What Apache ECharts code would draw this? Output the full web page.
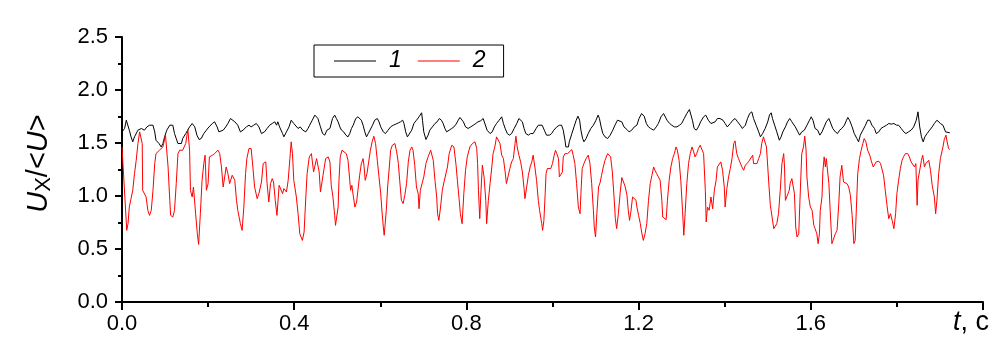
<!DOCTYPE html>
<html><head><meta charset="utf-8">
<script src="https://cdn.jsdelivr.net/npm/echarts@6/dist/echarts.min.js"></script>
<style>html,body{margin:0;padding:0;background:#fff}#c{width:1004px;height:357px}</style>
</head><body><div id="c"></div>
<script>
const seriesNames = ['1', '2'];
const seriesColors = ['#000000', '#ff0000'];
// curve 1: [t (s), Ux/<U>]
const curve1 = [[0.000,1.605],[0.006,1.637],[0.010,1.715],[0.014,1.700],[0.017,1.621],[0.021,1.558],[0.025,1.511],[0.029,1.558],[0.037,1.621],[0.045,1.637],[0.052,1.621],[0.058,1.652],[0.064,1.668],[0.068,1.684],[0.072,1.668],[0.076,1.605],[0.079,1.526],[0.086,1.495],[0.091,1.463],[0.095,1.495],[0.099,1.558],[0.104,1.621],[0.111,1.668],[0.114,1.684],[0.118,1.668],[0.122,1.589],[0.126,1.542],[0.130,1.495],[0.134,1.479],[0.138,1.495],[0.141,1.542],[0.148,1.589],[0.157,1.652],[0.163,1.684],[0.169,1.652],[0.174,1.574],[0.179,1.533],[0.184,1.542],[0.190,1.589],[0.196,1.621],[0.202,1.652],[0.210,1.684],[0.215,1.700],[0.221,1.652],[0.225,1.605],[0.229,1.605],[0.235,1.621],[0.241,1.652],[0.246,1.684],[0.252,1.731],[0.256,1.747],[0.262,1.700],[0.269,1.668],[0.275,1.605],[0.281,1.621],[0.289,1.652],[0.295,1.668],[0.300,1.652],[0.306,1.668],[0.312,1.684],[0.318,1.652],[0.324,1.589],[0.328,1.574],[0.331,1.605],[0.337,1.637],[0.343,1.668],[0.349,1.684],[0.355,1.700],[0.359,1.668],[0.362,1.700],[0.366,1.652],[0.373,1.589],[0.376,1.558],[0.382,1.605],[0.388,1.652],[0.393,1.715],[0.399,1.684],[0.403,1.668],[0.409,1.637],[0.414,1.652],[0.420,1.621],[0.427,1.605],[0.432,1.637],[0.436,1.668],[0.442,1.715],[0.448,1.763],[0.452,1.778],[0.455,1.731],[0.461,1.652],[0.466,1.589],[0.471,1.574],[0.476,1.621],[0.483,1.637],
[0.489,1.731],[0.494,1.763],[0.498,1.731],[0.502,1.700],[0.506,1.652],[0.510,1.621],[0.515,1.605],[0.520,1.574],[0.525,1.558],[0.529,1.589],[0.533,1.637],[0.537,1.668],[0.543,1.731],[0.548,1.747],[0.552,1.753],[0.556,1.715],[0.560,1.668],[0.564,1.605],[0.568,1.558],[0.572,1.589],[0.576,1.621],[0.582,1.668],[0.587,1.715],[0.593,1.731],[0.597,1.700],[0.601,1.652],[0.607,1.605],[0.612,1.589],[0.618,1.621],[0.624,1.652],[0.630,1.668],[0.636,1.678],[0.642,1.690],[0.647,1.700],[0.652,1.715],[0.655,1.684],[0.659,1.605],[0.663,1.558],[0.667,1.574],[0.673,1.621],[0.678,1.684],[0.684,1.715],[0.690,1.747],[0.696,1.785],[0.698,1.715],[0.701,1.605],[0.706,1.533],[0.711,1.574],[0.715,1.621],[0.721,1.652],[0.727,1.684],[0.732,1.700],[0.737,1.731],[0.742,1.715],[0.746,1.684],[0.750,1.637],[0.754,1.605],[0.760,1.621],[0.766,1.637],[0.771,1.652],[0.776,1.678],[0.781,1.715],[0.785,1.741],[0.789,1.747],[0.793,1.700],[0.798,1.652],[0.804,1.637],[0.810,1.652],[0.816,1.668],[0.822,1.684],[0.827,1.700],[0.833,1.709],[0.839,1.731],[0.843,1.715],[0.848,1.621],[0.855,1.589],[0.860,1.605],[0.865,1.652],[0.870,1.684],[0.876,1.715],[0.882,1.747],[0.886,1.684],[0.890,1.637],[0.895,1.589],[0.900,1.574],[0.905,1.589],[0.911,1.637],[0.917,1.684],[0.922,1.731],[0.926,1.747],[0.930,1.700],[0.934,1.637],[0.938,1.589],[0.944,1.574],[0.949,1.589],[0.955,1.589],[0.962,1.637],[0.967,1.668],[0.971,1.668],
[0.976,1.668],[0.981,1.621],[0.986,1.574],[0.993,1.574],[0.998,1.589],[1.003,1.621],[1.010,1.652],[1.016,1.668],[1.021,1.668],[1.025,1.621],[1.029,1.526],[1.031,1.463],[1.037,1.463],[1.039,1.511],[1.045,1.589],[1.050,1.652],[1.055,1.715],[1.059,1.753],[1.063,1.715],[1.066,1.621],[1.070,1.542],[1.073,1.511],[1.078,1.542],[1.083,1.589],[1.089,1.637],[1.095,1.668],[1.101,1.715],[1.106,1.763],[1.109,1.731],[1.113,1.652],[1.117,1.589],[1.122,1.558],[1.128,1.542],[1.134,1.574],[1.140,1.621],[1.145,1.668],[1.151,1.715],[1.155,1.731],[1.161,1.700],[1.166,1.652],[1.173,1.627],[1.178,1.605],[1.184,1.621],[1.190,1.652],[1.196,1.668],[1.201,1.731],[1.207,1.778],[1.213,1.753],[1.218,1.684],[1.223,1.652],[1.228,1.637],[1.235,1.621],[1.241,1.652],[1.246,1.684],[1.252,1.747],[1.258,1.778],[1.262,1.763],[1.266,1.715],[1.272,1.684],[1.277,1.668],[1.283,1.652],[1.289,1.652],[1.295,1.668],[1.300,1.684],[1.306,1.731],[1.312,1.778],[1.318,1.816],[1.321,1.810],[1.325,1.715],[1.329,1.637],[1.334,1.621],[1.339,1.652],[1.344,1.700],[1.351,1.747],[1.356,1.763],[1.362,1.715],[1.368,1.684],[1.372,1.668],[1.378,1.700],[1.383,1.731],[1.389,1.731],[1.396,1.715],[1.401,1.684],[1.406,1.652],[1.413,1.684],[1.419,1.715],[1.424,1.731],[1.430,1.700],[1.436,1.668],[1.441,1.637],[1.448,1.668],[1.453,1.731],[1.458,1.778],
[1.463,1.794],[1.467,1.731],[1.473,1.668],[1.479,1.605],[1.483,1.558],[1.488,1.589],[1.494,1.637],[1.500,1.700],[1.504,1.763],[1.508,1.785],[1.511,1.731],[1.516,1.668],[1.521,1.605],[1.527,1.526],[1.531,1.558],[1.535,1.605],[1.541,1.652],[1.546,1.700],[1.551,1.731],[1.556,1.700],[1.560,1.700],[1.564,1.652],[1.570,1.605],[1.574,1.574],[1.579,1.605],[1.585,1.621],[1.591,1.668],[1.597,1.715],[1.601,1.747],[1.605,1.715],[1.610,1.637],[1.616,1.621],[1.621,1.574],[1.626,1.605],[1.631,1.652],[1.636,1.700],[1.642,1.731],[1.645,1.715],[1.651,1.637],[1.657,1.605],[1.662,1.589],[1.667,1.621],[1.672,1.637],[1.678,1.668],[1.683,1.715],[1.686,1.741],[1.690,1.715],[1.696,1.652],[1.701,1.589],[1.707,1.542],[1.711,1.511],[1.715,1.574],[1.721,1.621],[1.727,1.668],[1.732,1.715],[1.737,1.715],[1.742,1.668],[1.748,1.637],[1.752,1.589],[1.758,1.605],[1.763,1.637],[1.769,1.652],[1.776,1.668],[1.781,1.684],[1.787,1.678],[1.793,1.684],[1.799,1.668],[1.804,1.668],[1.810,1.637],[1.816,1.605],[1.821,1.589],[1.827,1.605],[1.833,1.621],[1.839,1.652],[1.845,1.715],[1.849,1.794],[1.851,1.778],[1.853,1.652],[1.857,1.558],[1.861,1.511],[1.865,1.558],[1.870,1.589],[1.876,1.621],[1.882,1.652],[1.887,1.684],[1.893,1.715],[1.897,1.731],[1.901,1.684],[1.907,1.668],[1.913,1.605],[1.916,1.605],[1.923,1.596]];
// curve 2: [t (s), Ux/<U>]
const curve2 = [[0.000,1.463],[0.011,0.676],[0.014,0.739],[0.017,0.896],[0.021,0.975],[0.025,1.054],[0.029,1.211],[0.033,1.337],[0.037,1.495],[0.041,1.605],[0.045,1.589],[0.047,1.495],[0.048,1.054],[0.052,1.070],[0.056,0.991],[0.060,0.865],[0.064,0.817],[0.068,0.865],[0.072,1.054],[0.076,1.306],[0.079,1.400],[0.087,1.432],[0.095,1.463],[0.101,1.574],[0.104,1.558],[0.107,1.274],[0.111,0.959],[0.113,0.817],[0.118,0.802],[0.122,0.865],[0.126,1.117],[0.130,1.400],[0.134,1.432],[0.141,1.432],[0.148,1.495],[0.153,1.627],[0.157,1.432],[0.159,1.054],[0.163,0.991],[0.166,1.085],[0.171,0.833],[0.175,0.644],[0.178,0.543],[0.182,0.833],[0.186,1.148],[0.190,1.306],[0.193,1.385],[0.196,1.054],[0.200,1.117],[0.203,1.369],[0.210,1.385],[0.215,1.400],[0.223,1.432],[0.227,1.400],[0.231,1.274],[0.235,1.085],[0.238,1.070],[0.242,1.274],[0.246,1.211],[0.250,1.117],[0.256,1.196],[0.262,1.148],[0.266,0.959],[0.269,0.865],[0.275,0.739],[0.279,0.676],[0.283,0.896],[0.287,1.211],[0.290,1.353],[0.295,1.448],[0.300,1.448],[0.304,1.274],[0.308,1.085],[0.314,0.975],[0.318,1.022],[0.324,1.132],[0.328,1.306],[0.334,1.322],[0.337,1.117],[0.341,0.943],[0.345,1.117],[0.349,1.164],[0.352,1.132],[0.356,0.959],[0.360,0.817],[0.365,1.101],[0.369,1.085],[0.373,1.022],[0.376,1.070],[0.382,1.038],[0.386,1.148],[0.390,1.353],[0.393,1.511],[0.396,1.400],[0.399,1.148],[0.405,0.991],[0.409,0.833],[0.413,0.644],[0.419,0.581],[0.423,0.660],[0.427,0.991],[0.430,1.211],[0.435,1.369],[0.440,1.400],[0.445,1.227],[0.452,1.353],[0.458,1.227],[0.461,1.038],[0.467,1.196],[0.473,1.353],[0.479,1.369],[0.483,1.322],
[0.486,1.101],[0.490,0.991],[0.494,0.817],[0.496,0.723],[0.500,0.723],[0.502,0.896],[0.504,1.148],[0.507,1.369],[0.511,1.432],[0.515,1.416],[0.521,1.400],[0.525,1.337],[0.529,1.148],[0.531,1.054],[0.534,1.101],[0.537,1.007],[0.541,0.896],[0.545,0.943],[0.548,1.054],[0.552,1.196],[0.556,1.306],[0.560,1.353],[0.562,1.290],[0.565,1.148],[0.569,1.211],[0.573,1.322],[0.577,1.432],[0.581,1.511],[0.585,1.564],[0.589,1.495],[0.593,1.337],[0.597,1.180],[0.601,1.022],[0.604,0.849],[0.607,0.707],[0.609,0.629],[0.611,0.723],[0.614,0.865],[0.617,1.085],[0.621,1.274],[0.624,1.432],[0.628,1.479],[0.634,1.495],[0.638,1.416],[0.642,1.306],[0.645,1.148],[0.649,0.959],[0.653,0.928],[0.657,1.007],[0.661,1.117],[0.665,1.322],[0.669,1.432],[0.673,1.463],[0.676,1.432],[0.680,1.290],[0.684,1.085],[0.688,1.022],[0.690,0.880],[0.693,1.054],[0.697,1.070],[0.701,1.180],[0.706,1.306],[0.711,1.369],[0.717,1.432],[0.720,1.432],[0.723,1.337],[0.727,1.148],[0.731,0.991],[0.733,0.833],[0.736,0.770],[0.740,0.896],[0.744,1.054],[0.748,1.132],[0.752,1.148],[0.756,1.274],[0.760,1.400],[0.766,1.479],[0.771,1.463],[0.776,1.290],[0.779,1.148],[0.783,0.975],[0.786,0.833],[0.790,0.739],[0.794,1.022],[0.798,1.243],[0.802,1.369],[0.808,1.463],[0.814,1.495],[0.820,1.511],[0.824,1.448],[0.826,1.306],[0.828,1.054],[0.831,0.786],[0.834,1.054],[0.837,1.290],[0.841,1.180],[0.845,0.959],[0.847,0.739],[0.851,0.959],[0.855,1.117],[0.859,1.274],[0.862,1.400],[0.866,1.463],[0.870,1.558],[0.874,1.574],[0.878,1.495],[0.882,1.385],[0.886,1.353],[0.890,1.227],[0.893,1.117],[0.897,1.132],[0.901,1.259],[0.905,1.322],[0.909,1.353],[0.913,1.495],[0.915,1.564],[0.918,1.463],[0.922,1.385],[0.926,1.322],[0.930,1.227],[0.934,1.070],[0.936,0.975],[0.940,1.085],[0.944,1.196],[0.948,1.274],[0.952,1.322],[0.955,1.385],[0.959,1.274],[0.963,1.148],[0.967,0.959],[0.970,0.865],
[0.975,0.739],[0.977,0.676],[0.980,0.770],[0.983,1.022],[0.985,1.211],[0.988,1.259],[0.992,1.274],[0.996,1.259],[1.000,1.306],[1.003,1.369],[1.007,1.432],[1.010,1.400],[1.014,1.353],[1.016,1.180],[1.019,1.164],[1.023,1.227],[1.025,1.369],[1.029,1.400],[1.035,1.400],[1.039,1.416],[1.045,1.438],[1.048,1.385],[1.052,1.306],[1.056,1.117],[1.060,0.896],[1.064,0.833],[1.066,1.022],[1.069,1.259],[1.073,1.306],[1.078,1.353],[1.083,1.385],[1.087,1.306],[1.091,1.117],[1.095,0.865],[1.097,0.707],[1.100,0.613],[1.103,0.833],[1.107,1.085],[1.111,1.132],[1.114,1.196],[1.118,1.274],[1.122,1.337],[1.128,1.400],[1.131,1.416],[1.135,1.369],[1.139,1.227],[1.143,0.991],[1.146,0.786],[1.149,0.692],[1.153,0.833],[1.157,1.022],[1.161,1.174],[1.165,1.132],[1.169,1.085],[1.173,1.007],[1.176,0.865],[1.179,0.770],[1.182,0.849],[1.186,0.991],[1.190,0.975],[1.194,0.959],[1.196,0.896],[1.200,0.817],[1.204,0.739],[1.207,0.660],[1.211,0.581],[1.215,0.644],[1.219,0.739],[1.223,0.959],[1.227,1.117],[1.231,1.196],[1.235,1.274],[1.238,1.243],[1.242,1.211],[1.246,1.180],[1.250,1.148],[1.254,0.959],[1.256,0.802],[1.260,0.786],[1.264,0.777],[1.267,0.959],[1.271,1.148],[1.275,1.274],[1.279,1.353],[1.283,1.400],[1.287,1.463],[1.290,1.432],[1.294,1.337],[1.298,1.148],[1.302,0.865],[1.305,0.629],[1.308,0.833],[1.312,1.117],[1.316,1.306],[1.320,1.400],[1.324,1.463],[1.328,1.416],[1.331,1.369],[1.335,1.400],[1.339,1.448],[1.343,1.479],[1.347,1.495],[1.351,1.400],[1.355,1.054],[1.357,0.755],[1.360,0.896],[1.364,0.865],[1.368,0.991],[1.372,0.880],[1.376,1.054],[1.380,1.148],[1.383,1.274],[1.387,1.290],[1.391,1.322],[1.395,1.243],[1.399,1.085],[1.401,0.896],[1.405,1.070],[1.409,1.180],[1.413,1.259],[1.417,1.353],[1.421,1.495],[1.424,1.520],[1.428,1.400],[1.432,1.353],[1.436,1.353],[1.440,1.274],[1.444,1.243],[1.448,1.290],[1.452,1.306],[1.455,1.322],[1.459,1.322],
[1.465,1.385],[1.467,1.306],[1.471,1.322],[1.475,1.306],[1.479,1.353],[1.483,1.400],[1.486,1.495],[1.490,1.558],[1.494,1.564],[1.497,1.463],[1.500,1.274],[1.503,1.085],[1.506,0.912],[1.510,0.802],[1.514,0.692],[1.517,0.676],[1.521,0.739],[1.525,0.833],[1.529,1.054],[1.533,1.306],[1.537,1.400],[1.539,1.274],[1.541,0.959],[1.545,0.943],[1.547,1.022],[1.550,1.054],[1.552,1.117],[1.556,1.164],[1.560,1.180],[1.562,1.022],[1.565,0.707],[1.568,0.613],[1.572,0.644],[1.576,1.085],[1.579,1.400],[1.583,1.463],[1.586,1.564],[1.589,1.432],[1.591,1.180],[1.595,0.991],[1.599,0.896],[1.603,0.865],[1.607,0.723],[1.610,0.692],[1.614,0.644],[1.617,0.550],[1.620,0.644],[1.622,0.865],[1.626,0.991],[1.628,1.227],[1.631,1.369],[1.634,1.274],[1.636,1.353],[1.639,1.369],[1.642,1.117],[1.645,0.865],[1.649,0.550],[1.653,0.550],[1.657,0.644],[1.661,0.676],[1.665,0.928],[1.668,1.180],[1.672,1.290],[1.676,1.132],[1.680,1.148],[1.684,1.117],[1.688,1.085],[1.692,1.007],[1.696,0.817],[1.700,0.550],[1.703,0.581],[1.706,0.896],[1.709,1.211],[1.713,1.353],[1.717,1.432],[1.721,1.495],[1.724,1.542],[1.728,1.511],[1.732,1.432],[1.737,1.385],[1.740,1.337],[1.745,1.274],[1.749,1.290],[1.752,1.322],[1.758,1.328],[1.762,1.306],[1.766,1.290],[1.769,1.196],[1.773,1.054],[1.777,0.912],[1.781,0.786],[1.785,0.833],[1.789,0.770],[1.793,0.692],[1.797,0.833],[1.800,1.022],[1.804,1.148],[1.808,1.259],[1.812,1.337],[1.816,1.375],[1.820,1.400],[1.825,1.400],[1.829,1.369],[1.833,1.322],[1.837,1.306],[1.841,1.274],[1.844,1.306],[1.847,0.912],[1.849,1.148],[1.853,1.243],[1.857,1.337],[1.860,1.385],[1.864,1.274],[1.867,1.306],[1.870,1.290],[1.874,1.337],[1.878,1.243],[1.882,1.101],[1.884,1.085],[1.887,0.991],[1.890,0.833],[1.893,0.959],[1.897,1.211],[1.901,1.353],[1.904,1.353],[1.907,1.463],[1.910,1.533],[1.914,1.574],[1.916,1.526],[1.920,1.448],[1.923,1.438]];

const xRange = [0, 2.0, 0.4];   // min, max, interval
const yRange = [0, 2.5, 0.5];

const FONT = '"Liberation Sans", Arial, sans-serif';
const chart = echarts.init(document.getElementById('c'), null, { renderer: 'canvas' });
const axisLineStyle = { color: '#000', width: 2 };
chart.setOption({
  animation: false,
  backgroundColor: '#fff',
  grid: { left: 122, right: 21, top: 37, bottom: 55, containLabel: false },
  legend: {
    left: 314, top: 45,
    data: seriesNames,
    icon: 'rect',
    itemWidth: 42, itemHeight: 1, itemGap: 16,
    padding: [4, 18, 4, 20],
    borderColor: '#000', borderWidth: 1,
    textStyle: { fontFamily: FONT, fontSize: 23, fontStyle: 'italic', color: '#000', padding: [0, 0, 0, 8], lineHeight: 24 }
  },
  xAxis: {
    type: 'value', min: xRange[0], max: xRange[1], interval: xRange[2],
    axisLine: { show: true, onZero: false, lineStyle: axisLineStyle },
    axisTick: { show: true, inside: false, length: 8, lineStyle: axisLineStyle },
    minorTick: { show: true, splitNumber: 2, length: 5, lineStyle: axisLineStyle },
    splitLine: { show: false },
    axisLabel: { margin: 11, fontFamily: FONT, fontSize: 22, color: '#000',
      formatter: v => (v > xRange[1] - 0.01 ? '' : v.toFixed(1)) },
    name: '{i|t}{n|, c}', nameLocation: 'end', nameGap: 6,
    nameTextStyle: { align: 'right', verticalAlign: 'top', padding: [7, 0, 0, 0],
      rich: { i: { fontFamily: FONT, fontSize: 27, fontStyle: 'italic', color: '#000' },
              n: { fontFamily: FONT, fontSize: 27, color: '#000' } } }
  },
  yAxis: {
    type: 'value', min: yRange[0], max: yRange[1], interval: yRange[2],
    axisLine: { show: true, lineStyle: axisLineStyle },
    axisTick: { show: true, inside: false, length: 7, lineStyle: axisLineStyle },
    minorTick: { show: true, splitNumber: 2, length: 4, lineStyle: axisLineStyle },
    splitLine: { show: false },
    axisLabel: { margin: 14, fontFamily: FONT, fontSize: 22, color: '#000', formatter: v => v.toFixed(1) },
    name: '{i|U}{s|X}{n|/<}{i|U}{n|>}', nameLocation: 'middle', nameRotate: 90, nameGap: 67,
    nameTextStyle: { padding: [0, 0, 0, 12], rich: {
      i: { fontFamily: FONT, fontSize: 29, fontStyle: 'italic', color: '#000', lineHeight: 32 },
      n: { fontFamily: FONT, fontSize: 29, color: '#000', lineHeight: 32 },
      s: { fontFamily: FONT, fontSize: 22, color: '#000', lineHeight: 14, verticalAlign: 'bottom' }
    } }
  },
  series: [
    { name: seriesNames[0], type: 'line', data: curve1, symbol: 'none', showSymbol: false,
      lineStyle: { color: seriesColors[0], width: 1 }, itemStyle: { color: seriesColors[0] } },
    { name: seriesNames[1], type: 'line', data: curve2, symbol: 'none', showSymbol: false,
      lineStyle: { color: seriesColors[1], width: 1 }, itemStyle: { color: seriesColors[1] } }
  ]
});
</script></body></html>
